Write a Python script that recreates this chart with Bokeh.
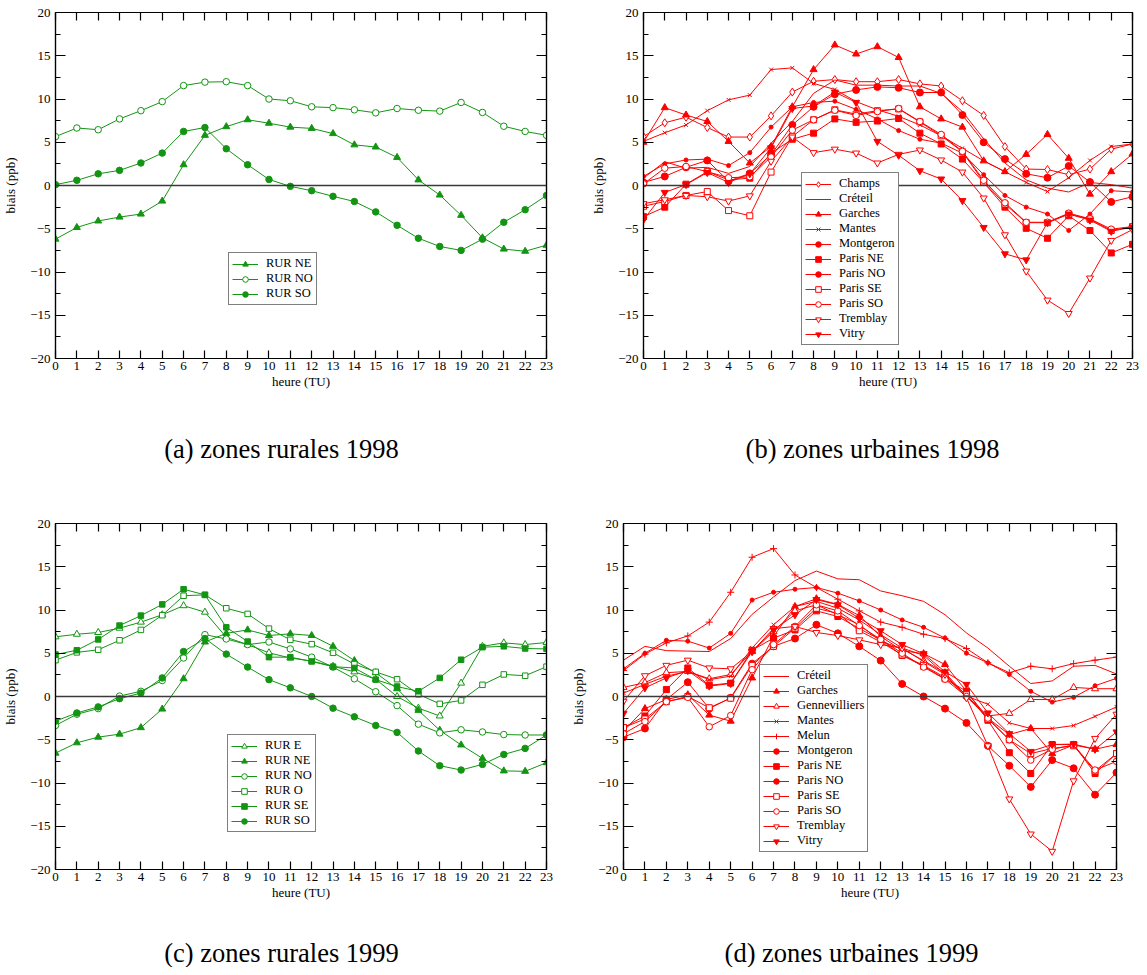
from bokeh.plotting import figure
from bokeh.models import (Range1d, LinearAxis, FixedTicker, SingleIntervalTicker, Span,
                          Legend, LegendItem, CustomJSTickFormatter)
from bokeh.layouts import row, column
from bokeh.embed import file_html
from bokeh.resources import INLINE
from bokeh.core.properties import value

FONT = "Liberation Serif, Times New Roman, serif"
GREEN = "#139513"
RED = "#ff0000"

hours = list(range(24))

# ---------------- (a) zones rurales 1998 ----------------
a_names = ["RUR NE", "RUR NO", "RUR SO"]
a_rur_ne = [-6.2, -4.85, -4.1, -3.65, -3.3, -1.8, 2.4, 5.8, 6.8, 7.6, 7.2, 6.75, 6.6, 6.0, 4.7, 4.45, 3.25, 0.65, -1.1, -3.45, -6.05, -7.35, -7.6, -6.9]
a_rur_no = [5.65, 6.65, 6.45, 7.7, 8.65, 9.7, 11.55, 11.95, 12.0, 11.55, 10.0, 9.8, 9.1, 9.0, 8.75, 8.4, 8.9, 8.7, 8.6, 9.6, 8.45, 6.85, 6.25, 5.8]
a_rur_so = [0.1, 0.6, 1.35, 1.75, 2.6, 3.75, 6.25, 6.7, 4.25, 2.4, 0.7, -0.1, -0.6, -1.25, -1.85, -3.05, -4.6, -6.1, -7.05, -7.5, -6.2, -4.25, -2.8, -1.15]

# ---------------- (b) zones urbaines 1998 ----------------
b_names = ["Champs", "Créteil", "Garches", "Mantes", "Montgeron", "Paris NE", "Paris NO",
           "Paris SE", "Paris SO", "Tremblay", "Vitry"]
b_champs = [5.65, 7.25, 7.9, 6.7, 5.6, 5.6, 8.05, 10.8, 12.05, 12.25, 12.0, 12.0, 12.25, 11.75, 11.5, 9.8, 8.1, 4.5, 1.9, 1.85, 1.25, 1.9, 4.2, 4.8]
b_creteil = [0.85, 2.75, 2.0, 2.1, 1.4, 2.2, 4.9, 7.4, 10.65, 12.2, 11.6, 11.6, 11.5, 11.5, 10.65, 8.55, 5.4, 2.6, 0.65, -0.3, -0.75, 0.35, 0.1, -0.3]
b_garches = [5.0, 9.0, 8.15, 7.4, 5.1, 2.6, 4.5, 9.1, 13.4, 16.25, 15.2, 16.05, 14.8, 9.1, 7.7, 6.75, 2.85, 1.6, 3.6, 5.9, 3.15, -1.0, 1.6, 3.65]
b_mantes = [5.1, 6.1, 7.0, 8.65, 9.9, 10.45, 13.4, 13.6, 11.8, 11.1, 9.7, 8.75, 8.0, 7.0, 5.75, 4.3, 2.85, 1.6, 0.35, -0.7, 0.9, 2.9, 4.5, 4.8]
b_montgeron = [1.05, 2.5, 2.95, 3.05, 2.3, 3.8, 6.75, 9.1, 9.6, 9.75, 8.8, 7.7, 6.35, 5.35, 4.9, 3.75, 1.25, -1.15, -2.5, -3.3, -5.2, -3.3, -0.6, -0.75]
b_paris_ne = [-3.6, -2.5, 0.15, 1.6, 0.65, 0.85, 3.75, 5.35, 6.05, 7.7, 7.3, 7.45, 7.75, 6.05, 4.8, 3.05, 0.35, -2.5, -4.95, -6.1, -3.5, -5.2, -7.8, -6.8]
b_paris_no = [0.35, 1.05, 2.1, 2.9, 0.5, 1.4, 3.55, 7.0, 9.1, 10.55, 11.05, 11.4, 11.3, 10.75, 10.75, 8.15, 5.0, 3.05, 1.35, 0.9, 2.25, 0.4, -1.9, -1.3]
b_paris_se = [-2.4, -1.85, -1.15, -0.7, -2.9, -3.5, 1.55, 5.65, 7.6, 8.75, 8.25, 8.65, 8.85, 7.35, 5.75, 3.9, 0.4, -2.15, -4.3, -4.3, -3.3, -3.9, -5.2, -4.75]
b_paris_so = [0.2, 2.0, 2.2, 1.6, 0.9, 1.0, 3.3, 6.4, 7.6, 8.7, 8.1, 8.55, 8.9, 7.4, 5.9, 3.95, 0.6, -2.0, -4.25, -4.25, -3.2, -3.85, -5.05, -4.75]
b_tremblay = [-2.1, -1.65, -1.15, -1.3, -1.8, -1.2, 2.8, 5.6, 3.8, 4.2, 3.75, 2.6, 3.6, 4.1, 2.95, 1.55, -1.45, -5.7, -9.9, -13.25, -14.8, -10.7, -6.35, -5.1]
b_vitry = [-3.95, -0.8, 0.1, 1.5, 0.35, 1.35, 4.35, 8.9, 9.2, 10.8, 9.6, 5.1, 3.5, 1.7, 0.75, -1.75, -4.85, -7.9, -8.6, -4.3, -3.3, -4.0, -5.3, -4.8]

# ---------------- (c) zones rurales 1999 ----------------
c_names = ["RUR E", "RUR NE", "RUR NO", "RUR O", "RUR SE", "RUR SO"]
c_rur_e = [6.9, 7.2, 7.4, 7.9, 8.6, 9.45, 10.5, 9.75, 6.85, 6.0, 5.05, 4.45, 4.1, 3.5, 2.85, 2.0, 0.0, -1.35, -2.25, 1.55, 5.8, 6.2, 6.0, 6.25]
c_rur_ne = [-6.55, -5.35, -4.7, -4.35, -3.6, -1.45, 2.05, 6.3, 7.3, 7.7, 7.05, 7.25, 7.05, 5.8, 4.15, 2.75, 0.9, -1.6, -3.9, -5.6, -7.15, -8.6, -8.65, -7.65]
c_rur_no = [-3.35, -2.05, -1.4, 0.05, 0.6, 1.85, 4.45, 7.15, 6.65, 6.0, 6.3, 5.5, 4.55, 3.4, 2.05, 0.55, -1.05, -3.2, -4.2, -3.85, -4.1, -4.4, -4.45, -4.45]
c_rur_o = [4.2, 5.1, 5.4, 6.5, 7.7, 9.4, 11.65, 11.75, 10.2, 9.55, 7.85, 6.55, 6.05, 5.05, 3.75, 2.85, 2.0, 0.25, -0.85, -0.45, 1.35, 2.55, 2.4, 3.45]
c_rur_se = [4.85, 5.35, 6.6, 8.2, 9.35, 10.65, 12.4, 11.75, 8.0, 6.35, 4.55, 4.55, 4.05, 3.45, 3.3, 1.95, 1.15, 0.6, 2.15, 4.25, 5.7, 5.8, 5.55, 5.5]
c_rur_so = [-2.85, -1.9, -1.2, -0.25, 0.4, 2.15, 5.2, 6.7, 4.9, 3.4, 1.95, 1.0, 0.0, -1.35, -2.35, -3.35, -4.15, -6.3, -8.0, -8.5, -7.85, -6.7, -6.0, -4.45]

# ---------------- (d) zones urbaines 1999 ----------------
d_names = ["Créteil", "Garches", "Gennevilliers", "Mantes", "Melun", "Montgeron", "Paris NE",
           "Paris NO", "Paris SE", "Paris SO", "Tremblay", "Vitry"]
d_creteil = [4.2, 5.8, 5.3, 5.25, 5.2, 6.7, 9.5, 11.5, 13.4, 14.5, 13.6, 13.5, 12.2, 11.65, 11.0, 9.45, 7.35, 5.6, 3.5, 1.5, 1.8, 3.5, 3.6, 2.6]
d_garches = [-4.0, -1.4, -0.35, 0.2, -2.15, -2.85, 2.15, 6.95, 10.4, 11.3, 10.65, 9.35, 6.95, 5.3, 4.95, 3.7, 0.6, -2.5, -4.4, -3.7, -6.6, -5.6, -6.1, -5.55]
d_gennevilliers = [1.05, 1.6, 2.75, 2.9, 2.05, 2.55, 5.2, 7.5, 9.9, 10.6, 9.45, 8.3, 6.4, 5.5, 4.15, 2.75, 0.05, -2.25, -1.95, -0.35, -0.35, 1.05, 0.9, 0.9]
d_mantes = [0.4, 1.4, 2.35, 2.9, 1.95, 2.35, 5.6, 8.3, 10.4, 11.0, 10.2, 8.85, 7.15, 5.6, 4.05, 2.55, 0.05, -0.9, -3.05, -3.7, -3.7, -3.35, -2.3, -1.2]
d_melun = [3.0, 4.9, 6.2, 7.0, 8.6, 12.05, 16.1, 17.1, 14.05, 12.6, 11.25, 9.9, 8.6, 8.0, 7.2, 6.7, 5.55, 3.9, 2.75, 3.5, 3.2, 3.8, 4.2, 4.55]
d_montgeron = [3.2, 5.0, 6.5, 6.4, 5.6, 7.3, 11.15, 12.05, 12.4, 12.6, 11.95, 11.05, 10.0, 8.85, 8.0, 6.75, 5.0, 3.9, 2.55, 0.6, -0.65, -0.1, 1.25, 2.1]
d_paris_ne = [-3.6, -2.25, 0.8, 3.3, 1.3, 1.55, 5.35, 6.75, 7.7, 9.9, 9.25, 7.85, 6.55, 4.75, 3.5, 2.05, 0.6, -2.75, -6.5, -8.9, -5.55, -5.55, -8.9, -6.6]
d_paris_no = [-4.7, -3.7, -0.35, 1.65, -1.4, -0.15, 3.8, 5.8, 6.7, 8.3, 7.3, 5.8, 4.15, 1.45, 0.0, -1.4, -3.05, -5.7, -8.0, -10.45, -7.35, -8.3, -11.35, -8.8]
d_paris_se = [-3.6, -2.6, -0.6, 0.0, -1.3, -0.2, 3.6, 5.8, 7.9, 10.2, 9.6, 7.6, 6.3, 4.8, 3.6, 2.2, 0.2, -2.6, -5.0, -6.6, -6.0, -5.7, -8.6, -6.6]
d_paris_so = [-4.3, -2.9, -0.6, -0.1, -3.5, -2.2, 3.1, 6.0, 8.1, 10.6, 9.9, 8.2, 6.6, 5.0, 3.4, 2.0, 0.0, -2.5, -5.0, -7.35, -6.1, -5.6, -8.5, -7.5]
d_tremblay = [-0.55, 2.4, 3.6, 4.2, 3.3, 3.2, 5.2, 7.85, 8.1, 7.4, 7.05, 6.55, 6.0, 5.6, 4.75, 2.55, -0.15, -5.7, -11.85, -15.9, -17.9, -9.75, -4.85, -2.05]
d_vitry = [-1.95, 1.0, 2.15, 3.0, 1.2, 1.5, 5.2, 7.7, 9.45, 11.2, 10.6, 9.05, 7.6, 6.0, 4.95, 2.85, 1.4, -1.9, -4.3, -6.35, -5.55, -5.5, -6.1, -4.1]

captions = ["(a) zones rurales 1998", "(b) zones urbaines 1998",
            "(c) zones rurales 1999", "(d) zones urbaines 1999"]

# marker style per station: (marker, size, filled)
STYLE = {
    "RUR E": ("triangle", 7, False),
    "RUR NE": ("triangle", 7, True),
    "RUR NO": ("circle", 6.5, False),
    "RUR O": ("square", 5.5, False),
    "RUR SE": ("square", 5.5, True),
    "RUR SO": ("circle", 6.5, True),
    "Champs": ("diamond", 8, False),
    "Créteil": (None, 0, False),
    "Garches": ("triangle", 7, True),
    "Gennevilliers": ("triangle", 7, False),
    "Mantes": ("x", 5.5, False),
    "Melun": ("cross", 7, False),
    "Montgeron": ("circle", 4, True),
    "Paris NE": ("square", 6, True),
    "Paris NO": ("circle", 7, True),
    "Paris SE": ("square", 6, False),
    "Paris SO": ("circle", 6.5, False),
    "Tremblay": ("inverted_triangle", 7, False),
    "Vitry": ("inverted_triangle", 7, True),
}


def style_axis(ax, tick_in, minor_in, labels):
    ax.major_tick_in = tick_in
    ax.major_tick_out = 0
    ax.minor_tick_in = minor_in
    ax.minor_tick_out = 0
    ax.axis_line_color = "black"
    ax.axis_line_width = 1.2
    ax.major_tick_line_color = "black"
    ax.major_tick_line_width = 1.2
    ax.minor_tick_line_color = "black"
    ax.minor_tick_line_width = 1.2
    if labels:
        ax.major_label_text_font = FONT
        ax.major_label_text_font_size = "13px"
        ax.major_label_text_color = "black"
        ax.axis_label_text_font = FONT
        ax.axis_label_text_font_size = "13px"
        ax.axis_label_text_font_style = "normal"
        ax.axis_label_text_color = "black"
    else:
        ax.formatter = CustomJSTickFormatter(code="return ''")
        ax.major_label_text_font_size = "0px"
        ax.major_label_standoff = 0


def make_panel(names, data, color, width, height, bl, br, bt, bb, leg_xy):
    p = figure(width=width, height=height, x_range=Range1d(0, 23), y_range=Range1d(-20, 20),
               x_axis_type=None, y_axis_type=None, toolbar_location=None, output_backend="svg",
               min_border_left=bl, min_border_right=br, min_border_top=bt, min_border_bottom=bb)
    p.outline_line_color = "black"
    p.outline_line_width = 1.2
    p.background_fill_color = "white"
    p.border_fill_color = "white"

    xb = LinearAxis(ticker=FixedTicker(ticks=hours, minor_ticks=[]), axis_label="heure (TU)")
    style_axis(xb, 8, 0, True)
    xb.major_label_standoff = 3
    xb.axis_label_standoff = 1
    p.add_layout(xb, "below")
    xt = LinearAxis(ticker=FixedTicker(ticks=hours, minor_ticks=[]))
    style_axis(xt, 8, 0, False)
    p.add_layout(xt, "above")
    yl = LinearAxis(ticker=SingleIntervalTicker(interval=5, num_minor_ticks=2), axis_label="biais (ppb)")
    style_axis(yl, 10, 5, True)
    yl.major_label_standoff = 5
    yl.axis_label_standoff = 9
    p.add_layout(yl, "left")
    yr = LinearAxis(ticker=SingleIntervalTicker(interval=5, num_minor_ticks=2))
    style_axis(yr, 10, 5, False)
    p.add_layout(yr, "right")

    p.add_layout(Span(location=0, dimension="width", line_color="#3a3a3a", line_width=1.6))

    items = []
    for name, vals in zip(names, data):
        marker, size, filled = STYLE[name]
        rl = p.line(hours, vals, line_color=color, line_width=1)
        rs = [rl]
        if marker is not None:
            sc = p.scatter(hours, vals, marker=marker, size=size, line_color=color,
                           fill_color=color if filled else "white", line_width=1)
            rs.append(sc)
        items.append(LegendItem(label=name, renderers=rs))
    leg = Legend(items=items, location=leg_xy, border_line_color="black", border_line_width=1,
                 background_fill_color="white", background_fill_alpha=1,
                 label_text_font=FONT, label_text_font_size="12.5px", label_text_color="black",
                 glyph_width=26, glyph_height=14, label_height=10, spacing=0, padding=3,
                 margin=0, label_standoff=8)
    p.add_layout(leg)
    return p


def make_caption(text, width, height, cx, cy):
    c = figure(width=width, height=height, x_range=Range1d(0, width), y_range=Range1d(0, height),
               x_axis_type=None, y_axis_type=None, toolbar_location=None, output_backend="svg",
               min_border=0)
    c.outline_line_color = None
    c.text(x=[cx], y=[height - cy], text=[text], text_align="center", text_baseline="middle",
           text_font=value(FONT), text_font_size="26.5px", text_color="black")
    return c


# layout (pixels): row 1 figures 393 high, caption band 118, row 2 figures 391, caption band 65
pa = make_panel(a_names, [a_rur_ne, a_rur_no, a_rur_so], GREEN, 588, 393, 52, 42, 12, 35, (173, 53))
pb = make_panel(b_names, [b_champs, b_creteil, b_garches, b_mantes, b_montgeron, b_paris_ne,
                          b_paris_no, b_paris_se, b_paris_so, b_tremblay, b_vitry],
                RED, 551, 393, 52, 7, 12, 35, (158, 13))
pc = make_panel(c_names, [c_rur_e, c_rur_ne, c_rur_no, c_rur_o, c_rur_se, c_rur_so],
                GREEN, 568, 391, 52, 22, 12, 33, (172, 37))
pd_ = make_panel(d_names, [d_creteil, d_garches, d_gennevilliers, d_mantes, d_melun, d_montgeron,
                           d_paris_ne, d_paris_no, d_paris_se, d_paris_so, d_tremblay, d_vitry],
                 RED, 571, 391, 52, 23, 12, 33, (136, 17))

ca = make_caption(captions[0], 588, 118, 281, 55)
cb = make_caption(captions[1], 551, 118, 872 - 588, 55)
cc = make_caption(captions[2], 568, 65, 281, 50)
cd = make_caption(captions[3], 571, 65, 851 - 568, 50)

layout = column(row(pa, pb), row(ca, cb), row(pc, pd_), row(cc, cd))
p = layout
open("out.html", "w").write(file_html(p, INLINE))
